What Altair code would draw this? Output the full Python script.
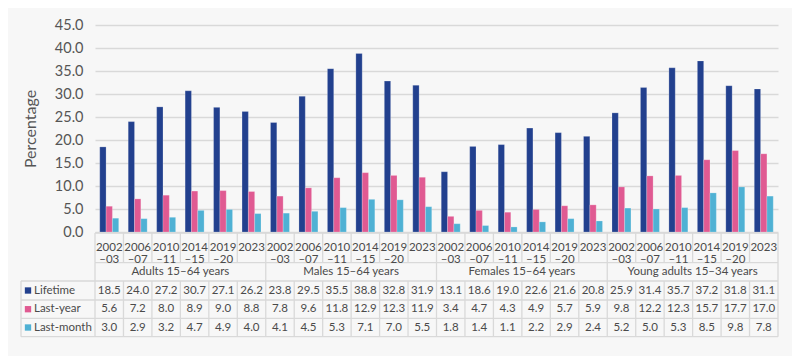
import altair as alt
import pandas as pd

groups = ["Adults 15–64 years", "Males 15–64 years", "Females 15–64 years", "Young adults 15–34 years"]
periods = ["2002–03", "2006–07", "2010–11", "2014–15", "2019–20", "2023"]
period_labels = ["2002\n–03", "2006\n–07", "2010\n–11", "2014\n–15", "2019\n–20", "2023"]
series = ["Lifetime", "Last-year", "Last-month"]
colors = ["#22408e", "#e05a92", "#4fb1d4"]

lifetime = [18.5, 24.0, 27.2, 30.7, 27.1, 26.2,
            23.8, 29.5, 35.5, 38.8, 32.8, 31.9,
            13.1, 18.6, 19.0, 22.6, 21.6, 20.8,
            25.9, 31.4, 35.7, 37.2, 31.8, 31.1]
last_year = [5.6, 7.2, 8.0, 8.9, 9.0, 8.8,
             7.8, 9.6, 11.8, 12.9, 12.3, 11.9,
             3.4, 4.7, 4.3, 4.9, 5.7, 5.9,
             9.8, 12.2, 12.3, 15.7, 17.7, 17.0]
last_month = [3.0, 2.9, 3.2, 4.7, 4.9, 4.0,
              4.1, 4.5, 5.3, 7.1, 7.0, 5.5,
              1.8, 1.4, 1.1, 2.2, 2.9, 2.4,
              5.2, 5.0, 5.3, 8.5, 9.8, 7.8]

FONT = "Lato"
TXT = "#4a4a4a"
GRID = "#d9d9d9"

cats = [f"{g} {p}" for g in groups for p in periods]
values = [lifetime, last_year, last_month]

rows = []
for s, vals in zip(series, values):
    for c, v in zip(cats, vals):
        rows.append({"cat": c, "series": s, "value": v})
df = pd.DataFrame(rows)

period_df = pd.DataFrame({"cat": cats, "label": [l for g in groups for l in period_labels]})
group_start_df = pd.DataFrame({"cat": [f"{g} {periods[0]}" for g in groups]})
group_mid_df = pd.DataFrame({"cat": [f"{g} {periods[3]}" for g in groups], "label": groups})
one = pd.DataFrame({"a": [0]})

xscale = alt.Scale(domain=cats, paddingInner=0, paddingOuter=0)


def X(**kw):
    return alt.X("cat:N", scale=xscale, axis=None, **kw)


bars = alt.Chart(df).mark_bar(stroke="#ffffff", strokeWidth=0.6, strokeOpacity=0.35).encode(
    x=X(),
    xOffset=alt.XOffset("series:N", scale=alt.Scale(domain=series, paddingInner=0, paddingOuter=0.75)),
    y=alt.Y("value:Q",
            scale=alt.Scale(domain=[0, 45], nice=False),
            axis=alt.Axis(values=list(range(0, 50, 5)), format=".1f", title="Percentage",
                          grid=True, gridColor=GRID, gridWidth=1.3, domain=False, ticks=False,
                          labelFont=FONT, labelFontSize=14.5, labelColor="#555555", labelPadding=12,
                          titleFont=FONT, titleFontSize=16, titleFontWeight="normal",
                          titleColor="#555555", titlePadding=16)),
    color=alt.Color("series:N", scale=alt.Scale(domain=series, range=colors), legend=None),
)

layers = [bars]

# table grid: horizontal rules
h_lines = [(208, 0), (237.7, 0), (256, -74), (275, -74), (293.3, -74), (311.7, -74)]
for yy, x0 in h_lines:
    layers.append(alt.Chart(one).mark_rule(color=GRID, strokeWidth=1.3).encode(
        x=alt.value(x0), x2=alt.value(683), y=alt.value(yy)))

# vertical rules
layers.append(alt.Chart(period_df).mark_rule(color=GRID, strokeWidth=1.3).encode(
    x=X(bandPosition=0), y=alt.value(208), y2=alt.value(237.7)))
layers.append(alt.Chart(period_df).mark_rule(color=GRID, strokeWidth=1.3).encode(
    x=X(bandPosition=0), y=alt.value(256), y2=alt.value(311.7)))
layers.append(alt.Chart(group_start_df).mark_rule(color=GRID, strokeWidth=1.3).encode(
    x=X(bandPosition=0), y=alt.value(237.7), y2=alt.value(256)))
layers.append(alt.Chart(one).mark_rule(color=GRID, strokeWidth=1.3).encode(
    x=alt.value(683), y=alt.value(208), y2=alt.value(311.7)))
layers.append(alt.Chart(one).mark_rule(color=GRID, strokeWidth=1.3).encode(
    x=alt.value(-74), y=alt.value(256), y2=alt.value(311.7)))

# period labels
layers.append(alt.Chart(period_df).mark_text(
    font=FONT, fontSize=11.5, color=TXT, baseline="middle", align="center",
    lineBreak="\n", lineHeight=12.6).encode(
    x=X(), y=alt.value(222.7), text="label:N"))

# group labels
layers.append(alt.Chart(group_mid_df).mark_text(
    font=FONT, fontSize=11.5, color=TXT, baseline="middle", align="center").encode(
    x=X(bandPosition=0), y=alt.value(246.8), text="label:N"))

# data rows
row_y = [265.5, 284.2, 302.5]
for s, c, yy in zip(series, colors, row_y):
    sub = df[df["series"] == s]
    layers.append(alt.Chart(sub).mark_text(
        font=FONT, fontSize=11.5, color=TXT, baseline="middle", align="center").encode(
        x=X(), y=alt.value(yy), text=alt.Text("value:Q", format=".1f")))
    lab = pd.DataFrame({"label": [s]})
    layers.append(alt.Chart(lab).mark_square(size=40, color=c, opacity=1).encode(
        x=alt.value(-67), y=alt.value(yy)))
    layers.append(alt.Chart(lab).mark_text(
        font=FONT, fontSize=11.5, color=TXT, baseline="middle", align="left").encode(
        x=alt.value(-61), y=alt.value(yy), text="label:N"))

chart = alt.layer(*layers).properties(
    width=683, height=207,
    autosize=alt.AutoSizeParams(type="none"),
    padding={"left": 87, "top": 17, "right": 14, "bottom": 124},
    background="#f7f7f7",
).configure_view(stroke=None)

chart.save("out.html", embed_options={"renderer": "svg", "actions": False})
